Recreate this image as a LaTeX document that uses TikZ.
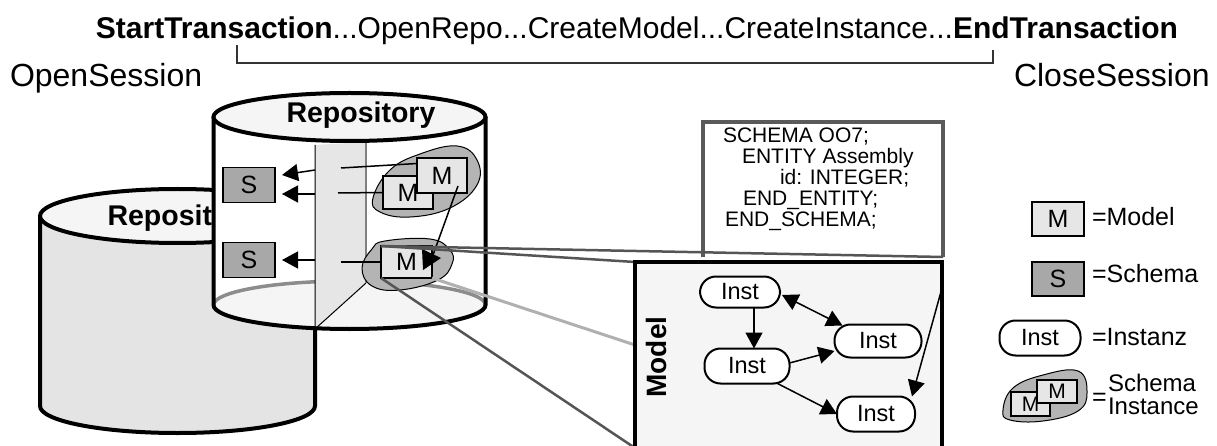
\documentclass[tikz,border=0pt]{standalone}
\usepackage{fontspec}
\setmainfont{Liberation Sans}
\usetikzlibrary{arrows.meta,calc}

\definecolor{cylgray}{HTML}{E4E4E4}
\definecolor{capgray}{HTML}{F5F5F5}
\definecolor{panelgray}{HTML}{E6E6E6}
\definecolor{schgray}{HTML}{A8A8A8}
\definecolor{modgray}{HTML}{E6E6E6}
\definecolor{blobgray}{HTML}{B4B4B4}
\definecolor{linkdark}{HTML}{555555}
\definecolor{linklight}{HTML}{B0B0B0}
\definecolor{floorgray}{HTML}{8C8C8C}
\definecolor{framegray}{HTML}{5A5A5A}
\definecolor{boxbg}{HTML}{F5F5F5}

\newcommand{\fsz}[1]{\fontsize{#1}{#1}\selectfont}

\begin{document}
\begin{tikzpicture}[x=1pt,y=-1pt,
  every node/.style={inner sep=0pt, outer sep=0pt},
  cyl/.style={line width=4pt, draw=black},
  sbox/.style={draw, line width=1.5pt, fill=schgray, minimum width=52pt, minimum height=35pt, font=\fsz{25}},
  mbox/.style={draw, line width=1.5pt, fill=modgray, minimum width=51pt, minimum height=34pt, font=\fsz{25}},
  inst/.style={draw, line width=2pt, fill=white, rounded corners=16pt, minimum width=84pt, minimum height=33pt, font=\fsz{23.5}},
  blob/.style={draw, line width=1pt, fill=blobgray},
  thin/.style={line width=1.5pt},
  arr/.style={line width=1.5pt, -{Triangle[length=16pt,width=17pt]}},
  arrs/.style={line width=1.5pt, {Triangle[length=16pt,width=17pt]}-{Triangle[length=16pt,width=17pt]}},
  link/.style={draw=linkdark, line width=2.5pt},
  linkl/.style={draw=linklight, line width=3pt},
  txt/.style={anchor=base west, font=\fsz{21}},
  leg/.style={anchor=base west, font=\fsz{25}},
  repo/.style={anchor=base, font=\bfseries\fsz{28.5}}
]
\clip (0,0) rectangle (1217,446);

% transaction line
\node[anchor=base, font=\fsz{30}] (steps) at (637,39)
  {\textbf{StartTransaction}...OpenRepo...CreateModel...CreateInstance...\textbf{EndTransaction}};
\draw[line width=1.5pt, black!80] (237,45) |- (993,63) -- (993,50);
\node[anchor=base west, font=\fsz{32}] (open) at (10,87) {OpenSession};
\node[anchor=base west, font=\fsz{32}] (close) at (1014,87) {CloseSession};

% rear repository
\path[fill=cylgray] (40,216) -- (40,406)
  arc[start angle=180,end angle=360,x radius=137.5pt,y radius=27pt]
  -- (315,216) arc[start angle=0,end angle=180,x radius=137.5pt,y radius=27pt] -- cycle;
\draw[cyl] (40,216) -- (40,406)
  arc[start angle=180,end angle=360,x radius=137.5pt,y radius=27pt] -- (315,216);
\draw[cyl, fill=capgray] (177.5,216) ellipse[x radius=137.5pt, y radius=27pt];
\node[repo] (repoB) at (182,226) {Repository};

% front repository
\path[fill=white] (213.5,117) -- (213.5,305)
  arc[start angle=180,end angle=360,x radius=136pt,y radius=24pt]
  -- (485.5,117) arc[start angle=0,end angle=180,x radius=136pt,y radius=24pt] -- cycle;
\fill[capgray] (349.5,305) ellipse[x radius=136pt, y radius=24pt];
\draw[floorgray, line width=3.5pt] (213.5,305)
  arc[start angle=180,end angle=0,x radius=136pt,y radius=24pt];
% partition wall
\path[fill=panelgray] (315,145) -- (366,142) -- (366,283) -- (315,329) -- cycle;
\draw[line width=1pt] (315,145) -- (315,329) -- (366,283);
\draw[gray, line width=1.2pt] (366,142) -- (366,283);
\draw[cyl] (213.5,117) -- (213.5,305)
  arc[start angle=180,end angle=360,x radius=136pt,y radius=24pt] -- (485.5,117);
\draw[cyl, fill=capgray] (349.5,117) ellipse[x radius=136pt, y radius=24pt];
\node[repo] (repoF) at (361,123) {Repository};

% schemas
\node[sbox] (s1) at (249,185) {S};
\node[sbox] (s2) at (249,260) {S};
\coordinate (pa) at (315,170);
\coordinate (pb) at (315,194);
\coordinate (pc) at (315,260);
\draw[arr] (pa) -- ([xshift=7pt,yshift=10pt]s1.east);
\draw[arr] (pb) -- ([xshift=7pt,yshift=-9pt]s1.east);
\draw[arr] (pc) -- ([xshift=7pt]s2.east);

% schema instances
\filldraw[blob] plot[smooth cycle, tension=0.7] coordinates
  {(373,198) (390,170) (420,154) (457,146) (477,160) (477,185) (450,208) (410,217) (380,212)};
\filldraw[blob] plot[smooth cycle, tension=0.7] coordinates
  {(362,268) (372,249) (385,241) (430,239) (450,250) (452,264) (438,280) (400,290) (372,286)};
\node[mbox, minimum width=50pt, minimum height=33pt] (ml) at (408,192.5) {M};
\node[mbox, minimum width=50pt, minimum height=35pt] (mu) at (442,175.5) {M};
\node[mbox, minimum width=51pt, minimum height=32pt] (mb) at (406.5,262) {M};

\coordinate (qa) at (341,168);
\coordinate (qb) at (338,193);
\coordinate (qc) at (341,262);
\draw[thin] (qa) -- ([yshift=12pt]mu.west);
\draw[thin] (qb) -- (ml.west);
\draw[thin] (qc) -- (mb.west);

\coordinate (hk) at (433,255);
\draw[thin] ([xshift=-9pt,yshift=7pt]mu.south east) -- (hk);
\fill (422,249) -- (441,258) -- (423,270) -- cycle;

% schema text box
\node[fill=white, minimum width=240pt, minimum height=135pt] (sch) at (823,189.5) {};
\draw[framegray, line width=4pt] (sch.south west) -- (sch.north west) -- (sch.north east) -- (sch.south east);
\node[txt] (sl1) at (723,143) {SCHEMA OO7;};
\node[txt] (sl2) at (742,164) {ENTITY Assembly};
\node[txt] (sl3) at (780,185) {id: INTEGER;};
\node[txt] (sl4) at (743,205.5) {END\_ENTITY;};
\node[txt] (sl5) at (725,226.5) {END\_SCHEMA;};

% model box
\coordinate (modelmid) at (635,345);
\draw[link] (mb.north west) -- (sch.south east);
\node[draw, line width=4pt, fill=boxbg, minimum width=307pt, minimum height=186pt] (model) at (788.5,355) {};
\draw[link] (mb.north west) -- (model.north west);
\draw[linkl] (mb.south east) -- (modelmid);
\draw[link] (mb.south west) -- (model.south west);
\draw[line width=4pt] (model.north west) rectangle (model.south east);
\node[rotate=90, font=\bfseries\fsz{28}] (mlabel) at (656,357) {Model};

\node[inst, minimum width=80pt, minimum height=31pt] (i1) at (740,292) {Inst};
\node[inst, minimum width=87pt] (i2) at (878,341) {Inst};
\node[inst, minimum width=85pt, minimum height=35pt] (i3) at (747,366) {Inst};
\node[inst, minimum width=78pt, minimum height=35pt] (i4) at (876,414) {Inst};

\draw[arr] ([xshift=14pt]i1.south) -- ([xshift=7pt]i3.north);
\draw[arrs] ([xshift=2pt,yshift=-3pt]i1.east) -- ([xshift=8pt,yshift=-1pt]i2.north west);
\draw[arr] ([yshift=3pt]i3.east) -- ([yshift=-10pt]i2.west);
\draw[arr] ([xshift=-12pt]i3.south east) -- (i4.west);
\draw[thin, -{Triangle[length=16pt,width=17pt]}] ([yshift=-26pt]model.north east) -- ([xshift=-3pt]i4.north east);

% legend
\node[mbox, minimum width=52pt, minimum height=34pt] (lm) at (1058,219) {M};
\node[leg] (ltm) at (1092,226) {=Model};
\node[sbox, minimum height=34pt] (ls) at (1058,279) {S};
\node[leg] (lts) at (1092,282) {=Schema};
\node[inst, minimum width=81pt, minimum height=35pt] (li) at (1040,338) {Inst};
\node[leg] (lti) at (1092,345) {=Instanz};
\filldraw[blob] plot[smooth cycle, tension=0.7] coordinates
  {(1003,410) (1013,388) (1043,375) (1078,371) (1087,392) (1078,411) (1043,421) (1010,420)};
\node[mbox, minimum width=39pt, minimum height=24pt, font=\fsz{21}] (lm1) at (1030.5,404) {M};
\node[mbox, minimum width=40pt, minimum height=23pt, font=\fsz{21}] (lm2) at (1057,391.5) {M};
\node[anchor=west, font=\fsz{25}] (leq) at (1092,399) {=};
\node[anchor=base west, font=\fsz{24}] (lsi1) at (1108,391) {Schema};
\node[anchor=base west, font=\fsz{24}] (lsi2) at (1108,414) {Instance};
\end{tikzpicture}
\end{document}
